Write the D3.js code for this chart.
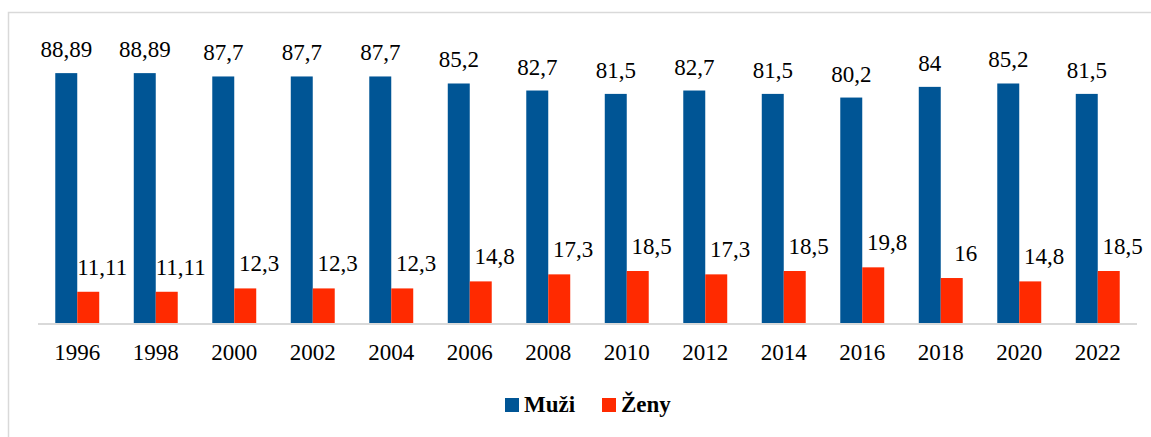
<!DOCTYPE html>
<html>
<head>
<meta charset="utf-8">
<script src="https://cdn.jsdelivr.net/npm/d3@7"></script>
</head>
<body style="margin:0">
<script>
// Data
const years = ["1996", "1998", "2000", "2002", "2004", "2006", "2008", "2010", "2012", "2014", "2016", "2018", "2020", "2022"];
const muzi = [88.89, 88.89, 87.7, 87.7, 87.7, 85.2, 82.7, 81.5, 82.7, 81.5, 80.2, 84, 85.2, 81.5];
const zeny = [11.11, 11.11, 12.3, 12.3, 12.3, 14.8, 17.3, 18.5, 17.3, 18.5, 19.8, 16, 14.8, 18.5];
const seriesNames = ["Muži", "Ženy"];
const seriesColors = ["#005595", "#ff2a00"];

const FONT = "'Liberation Serif'";
const W = 1151, H = 437;
const plot = {left: 38, right: 1137, top: 70, bottom: 323};

const svg = d3.select("body").append("svg")
  .attr("width", W)
  .attr("height", H)
  .style("font-family", FONT);

// outer chart border
svg.append("rect")
  .attr("x", 8.5).attr("y", 12.5)
  .attr("width", W + 20).attr("height", H + 20)
  .attr("fill", "none")
  .attr("stroke", "#d9d9d9")
  .attr("stroke-width", 1.5);

const x = d3.scaleBand()
  .domain(years)
  .range([plot.left, plot.right])
  .paddingInner(0.44)
  .paddingOuter(0.22);

const y = d3.scaleLinear()
  .domain([0, 90])
  .range([plot.bottom, plot.top]);

const barW = x.bandwidth() / 2;

const rows = years.map((yr, i) => ({year: yr, values: [muzi[i], zeny[i]]}));

const groups = svg.selectAll(".grp")
  .data(rows)
  .enter().append("g")
    .attr("class", "grp")
    .attr("transform", d => `translate(${x(d.year)},0)`);

groups.selectAll("rect")
  .data(d => d.values.map((v, k) => ({v, k})))
  .enter().append("rect")
    .attr("x", d => d.k * barW)
    .attr("y", d => y(d.v))
    .attr("width", barW)
    .attr("height", d => y(0) - y(d.v))
    .attr("fill", d => seriesColors[d.k]);

const fmt = v => String(v).replace(".", ",");

// value labels
groups.selectAll(".lbl")
  .data(d => d.values.map((v, k) => ({v, k})))
  .enter().append("text")
    .attr("class", "lbl")
    .attr("x", d => d.k === 0 ? barW / 2 : barW * 1.5 + 14)
    .attr("y", d => y(d.v) - (d.k === 0 ? 16 : 17))
    .attr("text-anchor", "middle")
    .style("font-family", FONT)
    .style("font-size", "23px")
    .text(d => fmt(d.v));

// x axis
const xAxis = svg.append("g")
  .attr("transform", `translate(0,${plot.bottom})`)
  .call(d3.axisBottom(x).tickSize(0).tickPadding(0).tickSizeOuter(0))
  .attr("font-family", null)
  .attr("font-size", null);
xAxis.select(".domain")
  .attr("stroke", "#d9d9d9")
  .attr("stroke-width", 2)
  .attr("d", `M${plot.left},1H${plot.right}`);
xAxis.selectAll("text")
  .attr("dy", 0)
  .attr("y", 37)
  .style("font-family", FONT)
  .style("font-size", "23px")
  .attr("fill", "#000");

// legend
const legend = svg.append("g").attr("transform", "translate(505,398)");
const legendX = [0, 97];
const items = legend.selectAll(".leg")
  .data(seriesNames)
  .enter().append("g")
    .attr("transform", (d, i) => `translate(${legendX[i]},0)`);
items.append("rect")
  .attr("width", 14).attr("height", 14)
  .attr("fill", (d, i) => seriesColors[i]);
items.append("text")
  .attr("x", 19).attr("y", 14)
  .style("font-family", FONT)
  .style("font-size", "23px")
  .style("font-weight", "bold")
  .text(d => d);
</script>
</body>
</html>
